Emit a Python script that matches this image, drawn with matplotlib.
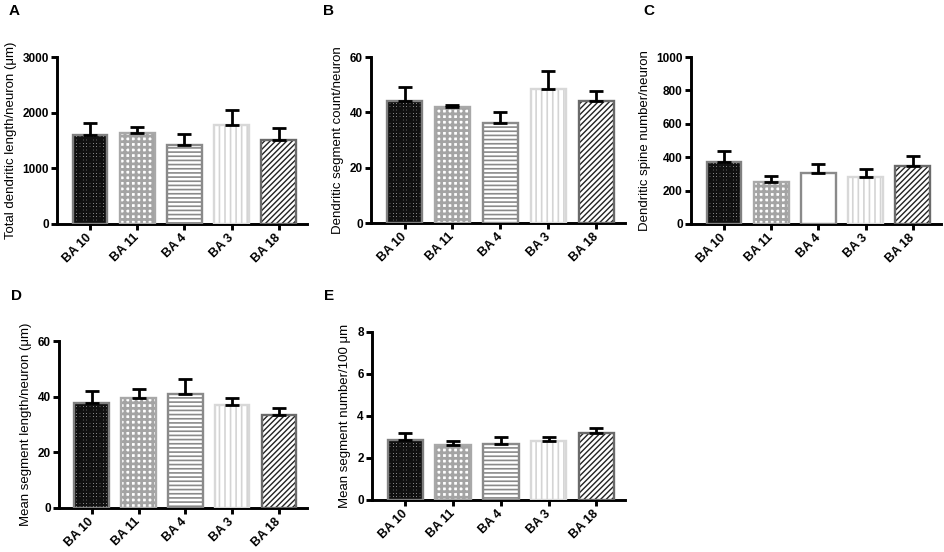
import matplotlib
matplotlib.use("Agg")
import matplotlib.pyplot as plt
import numpy as np

plt.rcParams['font.family'] = ['Liberation Sans', 'DejaVu Sans']

categories = ['BA 10', 'BA 11', 'BA 4', 'BA 3', 'BA 18']

A_mean = [1590, 1640, 1425, 1780, 1505]
A_err = [220, 105, 200, 270, 220]
B_mean = [44.2, 41.8, 36.0, 48.4, 44.2]
B_err = [4.8, 0.8, 4.1, 6.7, 3.6]
C_mean = [372, 250, 305, 281, 345]
C_err = [64, 40, 54, 48, 60]
D_mean = [37.6, 39.4, 41.0, 36.9, 33.5]
D_err = [4.3, 3.5, 5.4, 2.7, 2.5]
E_mean = [2.88, 2.60, 2.66, 2.82, 3.17]
E_err = [0.32, 0.20, 0.34, 0.20, 0.24]

ylabels = ['Total dendritic length/neuron (μm)',
           'Dendritic segment count/neuron',
           'Dendritic spine number/neuron',
           'Mean segment length/neuron (μm)',
           'Mean segment number/100 μm']
letters = ['A', 'B', 'C', 'D', 'E']
ymaxes = [3000, 60, 1000, 60, 8]
ysteps = [1000, 20, 200, 20, 2]

# style per bar: (face, hatch, hatch colour, hatch lw, edge colour)
styles = [
    ('white', '+++++', '#111111', 1.8, '#808080'),
    ('white', '+++', '#a4a4a4', 2.0, '#a8a8a8'),
    ('white', '----', '#8a8a8a', 1.2, '#8a8a8a'),
    ('white', '|||', '#d4d4d4', 1.2, '#d8d8d8'),
    ('white', '//////', '#222222', 1.0, '#6a6a6a'),
]

W, H = 944, 552
fig = plt.figure(figsize=(W / 100, H / 100), dpi=100)

# axes rectangles in pixels: left, top, right, bottom
rects = [(57, 57, 307, 224), (371, 57, 625, 223), (691, 57, 941, 224),
         (59, 341, 307, 508), (372, 332, 625, 500)]

data = [(A_mean, A_err), (B_mean, B_err), (C_mean, C_err), (D_mean, D_err), (E_mean, E_err)]

for i, ((l, t, r, b), (means, errs)) in enumerate(zip(rects, data)):
    ax = fig.add_axes([l / W, 1 - b / H, (r - l) / W, (b - t) / H])
    x = np.arange(len(categories))
    for j in range(len(categories)):
        face, hatch, hcol, hlw, ecol = styles[j]
        if i == 2 and j == 2:
            hatch = None
        with plt.rc_context({'hatch.linewidth': hlw}):
            ax.bar(x[j], means[j], width=0.74, color=face, hatch=hatch,
                   edgecolor=hcol, linewidth=0, zorder=2)
        ax.bar(x[j], means[j], width=0.74, fill=False, edgecolor=ecol,
               linewidth=1.7, zorder=3)
    ax.errorbar(x, means, yerr=[np.zeros(len(errs)), errs], fmt='none',
                ecolor='black', elinewidth=2.0, capsize=5.0, capthick=2.0, zorder=4)
    ax.set_xlim(-0.7, 4.6)
    ax.set_ylim(0, ymaxes[i])
    ax.set_yticks(np.arange(0, ymaxes[i] + ysteps[i] / 2, ysteps[i]))
    ax.set_xticks(x)
    ax.set_xticklabels(categories, rotation=45, ha='right', va='center',
                       rotation_mode='anchor', fontweight='bold', fontsize=9)
    for lab in ax.get_yticklabels():
        lab.set_fontweight('bold')
        lab.set_fontsize(8.5)
    ax.spines['top'].set_visible(False)
    ax.spines['right'].set_visible(False)
    for s in ('left', 'bottom'):
        ax.spines[s].set_linewidth(2.1)
    ax.tick_params(axis='both', width=2.1, length=4.5, pad=1.5)
    ax.tick_params(axis='x', pad=4)
    ax.set_ylabel(ylabels[i], fontsize=9.5, labelpad=4)
    ax.patch.set_visible(False)
    fig.text((l - 48) / W, 1 - 11 / H if i < 3 else 1 - 296 / H, letters[i],
             fontsize=11, fontweight='bold', ha='left', va='center')

fig.savefig('out.png', dpi=100)
